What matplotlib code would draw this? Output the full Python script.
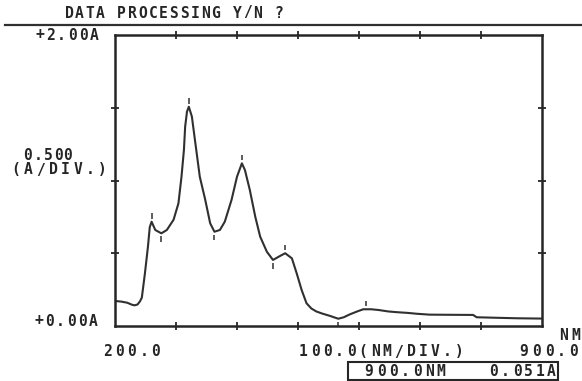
import matplotlib
matplotlib.use("Agg")
import matplotlib.pyplot as plt
from matplotlib.lines import Line2D
from matplotlib.patches import Rectangle

# absorbance trace, 200-900 nm
wavelength = [200, 210, 220, 228, 232, 237, 241, 244, 249, 254, 257, 260, 266,
              276, 285, 296, 304, 309, 313, 315, 318, 321, 326, 331, 339, 348,
              356, 363, 372, 380, 391, 400, 408, 413, 421, 430, 438, 449, 459,
              470, 479, 490, 498, 506, 514, 522, 530, 540, 552, 566, 575, 585,
              597, 607, 620, 632, 648, 662, 680, 695, 716, 750, 787, 793, 831,
              860, 900]
absorbance = [0.172, 0.168, 0.160, 0.146, 0.142, 0.148, 0.170, 0.195, 0.360,
              0.545, 0.680, 0.717, 0.660, 0.637, 0.660, 0.730, 0.843, 1.026,
              1.210, 1.370, 1.473, 1.507, 1.440, 1.280, 1.026, 0.866, 0.706,
              0.648, 0.660, 0.717, 0.866, 1.026, 1.118, 1.072, 0.935, 0.750,
              0.614, 0.510, 0.454, 0.480, 0.500, 0.465, 0.360, 0.247, 0.156,
              0.120, 0.100, 0.085, 0.070, 0.050, 0.060, 0.080, 0.100, 0.115,
              0.115, 0.110, 0.100, 0.095, 0.090, 0.084, 0.078, 0.077, 0.076,
              0.060, 0.056, 0.053, 0.051]

# peak / valley pick marks
peak_nm = [260, 321, 408, 479, 612]
peak_abs = [0.717, 1.507, 1.118, 0.500, 0.115]
valley_nm = [276, 363, 459, 566]
valley_abs = [0.637, 0.648, 0.454, 0.050]

x_start, x_end, x_div = 200.0, 900.0, 100.0
y_max, y_div = 2.00, 0.500
cursor_nm, cursor_abs = 900.0, 0.051

W, H = 582, 381
ink = "#262626"

fig = plt.figure(figsize=(W / 100, H / 100), dpi=100)
fig.patch.set_facecolor("white")


def px(x, y):
    return x / W, 1 - y / H


def plotter_text(x, y, s, pitch=11.0, size=10.5):
    # fixed-pitch lettering, one glyph per cell
    for i, ch in enumerate(s):
        fig.text(*px(x + i * pitch, y), ch, ha="center", va="center",
                 fontsize=size, family="DejaVu Sans Mono", weight="bold",
                 color=ink)


ax = fig.add_axes([115 / W, 1 - 326 / H, 427 / W, 291 / H])
ax.plot(wavelength, absorbance, color="#303030", lw=1.5)

# pick marks above peaks and below valleys
gap, tick = 0.02, 0.04
ax.vlines(peak_nm, [a + gap for a in peak_abs],
          [a + gap + tick for a in peak_abs], color="#303030", lw=1.1)
ax.vlines(valley_nm, [a - gap - tick for a in valley_abs],
          [a - gap for a in valley_abs], color="#303030", lw=1.1)

ax.set_xlim(x_start, x_end)
ax.set_ylim(0, y_max)
ax.set_xticks([x_start + k * x_div for k in range(1, 7)])
ax.set_yticks([k * y_div for k in range(1, 4)])
ax.tick_params(which="both", direction="inout", length=6, width=1.3,
               color=ink, top=True, right=True,
               labelbottom=False, labelleft=False)
for s in ax.spines.values():
    s.set_linewidth(1.8)
    s.set_color(ink)

# separator rule under the prompt line
fig.add_artist(Line2D([5 / W, 1], [1 - 25 / H] * 2, color="#303030", lw=1.6))
plotter_text(69, 13, "DATA PROCESSING Y/N ?", pitch=10.5)

plotter_text(40, 35, f"+{y_max:.2f}A", pitch=10.8)
plotter_text(39, 321, f"+{0:.2f}A", pitch=10.8)
plotter_text(28, 155, f"{y_div:.3f}", pitch=10.0)
plotter_text(16, 170, "(A/DIV.)", pitch=12.3)

plotter_text(108, 352, f"{x_start:.1f}", pitch=12.0)
plotter_text(303, 352, f"{x_div:.1f}(NM/DIV.)", pitch=12.0)
plotter_text(524, 352, f"{x_end:.1f}", pitch=12.5)
plotter_text(563, 336, "NM", pitch=13.0)

# cursor readout box
fig.add_artist(Rectangle(px(348, 380), 210 / W, 18 / H, fill=False,
                         edgecolor=ink, lw=1.5))
plotter_text(369, 371, f"{cursor_nm:.1f}NM", pitch=12.0)
plotter_text(494, 371, f"{cursor_abs:.3f}A", pitch=11.5)

fig.savefig("out.png", dpi=100)
